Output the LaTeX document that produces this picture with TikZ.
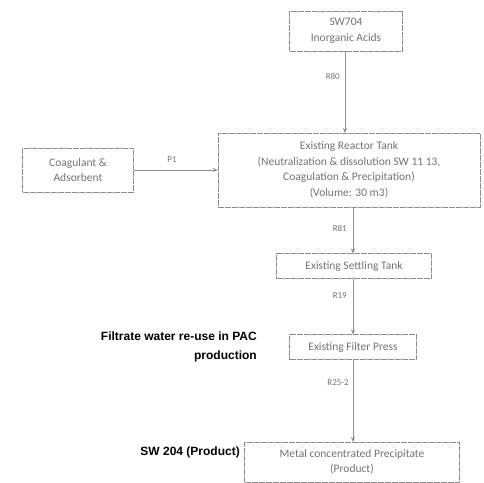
\documentclass[tikz,border=0pt]{standalone}
\usepackage{fontspec}
\setmainfont{Carlito}
\newfontfamily\labfont{Liberation Sans}
\usetikzlibrary{arrows.meta}
\definecolor{boxgray}{gray}{0.55}
\definecolor{txtgray}{gray}{0.45}
\tikzset{
  procbox/.style={draw=boxgray, line width=0.6pt, dash pattern=on 6pt off 1pt, fill=white, text=txtgray, align=center, inner sep=2pt, font=\fontsize{11.5}{15.5}\selectfont},
  flow/.style={draw=boxgray, line width=0.6pt, -{Stealth[length=5pt,width=4pt]}},
  flowlab/.style={text=txtgray, font=\fontsize{9}{10}\selectfont, inner sep=1pt},
  sidelab/.style={align=right, font=\labfont\bfseries\fontsize{12}{19}\selectfont, inner sep=0pt}
}
\begin{document}
\begin{tikzpicture}[x=1pt,y=-1pt]
\useasboundingbox (0,0) rectangle (484,482);
\fill[white] (0,0) rectangle (484,482);
\node[procbox, minimum width=113pt, minimum height=40pt] (acid) at (346,31) {SW704\\Inorganic Acids};
\node[procbox, minimum width=262pt, minimum height=74pt] (reactor) at (349,170) {Existing Reactor Tank\\(Neutralization \& dissolution SW 11 13,\\Coagulation \& Precipitation)\\(Volume: 30 m3)};
\node[procbox, minimum width=111pt, minimum height=44pt] (coag) at (78,170) {Coagulant \&\\Adsorbent};
\node[procbox, minimum width=155pt, minimum height=25pt] (settle) at (354,266) {Existing Settling Tank};
\node[procbox, minimum width=127pt, minimum height=25pt] (filter) at (353,347) {Existing Filter Press};
\node[procbox, minimum width=215pt, minimum height=40pt] (product) at (352,462) {Metal concentrated Precipitate\\(Product)};
\coordinate (a1) at (345,51);
\coordinate (a2) at (345,133);
\coordinate (b1) at (353,207);
\coordinate (b2) at (353,253.5);
\coordinate (c1) at (353,278.5);
\coordinate (c2) at (353,334.5);
\coordinate (d1) at (353,359.5);
\coordinate (d2) at (353,442);
\draw[flow] (a1) -- (a2);
\draw[flow] (coag.east) -- (reactor.west);
\draw[flow] (b1) -- (b2);
\draw[flow] (c1) -- (c2);
\draw[flow] (d1) -- (d2);
\node[flowlab, anchor=east] (l1) at (341,76) {R80};
\node[flowlab] (l2) at (172,160) {P1};
\node[flowlab, anchor=east] (l3) at (348,228) {R81};
\node[flowlab, anchor=east] (l4) at (348,296) {R19};
\node[flowlab, anchor=east] (l5) at (350,383) {R25-2};
\node[sidelab, anchor=east] (s1) at (257,347) {Filtrate water re-use in PAC\\production};
\node[sidelab, anchor=east] (s2) at (240,452) {SW 204 (Product)};
\end{tikzpicture}
\end{document}
